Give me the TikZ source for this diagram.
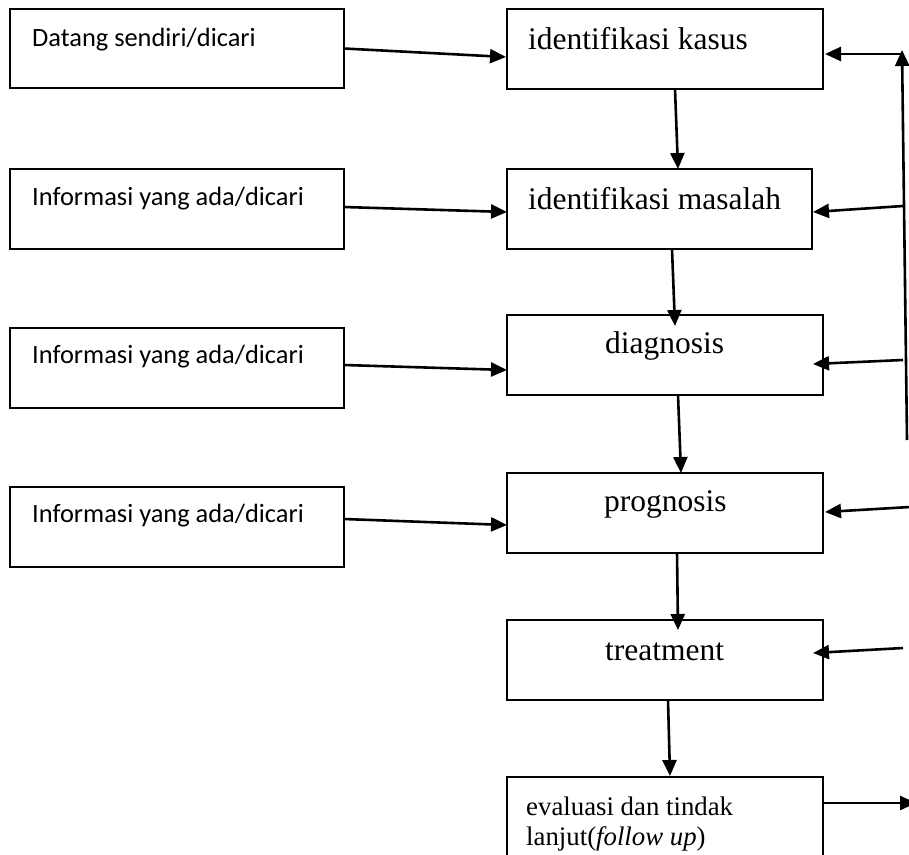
\documentclass[tikz,border=0pt]{standalone}
\usepackage{fontspec}
\setmainfont{Liberation Serif}
\newfontfamily\carl{Carlito}
\usetikzlibrary{arrows.meta,calc}
\tikzset{
  box/.style={draw=black,line width=1.8pt,inner sep=0pt,outer sep=0pt,minimum height=80pt},
  lbox/.style={box,minimum width=334pt},
  rbox/.style={box,minimum width=316pt},
  ltext/.style={anchor=base west,inner sep=0pt,font=\carl\fontsize{26.4pt}{30pt}\selectfont},
  rtext/.style={anchor=base west,inner sep=0pt,font=\fontsize{31.5pt}{36pt}\selectfont},
  arr/.style={line width=2.6pt,-{Triangle[length=16pt,width=14pt]}},
}
\begin{document}
\begin{tikzpicture}[x=1pt,y=-1pt]
\useasboundingbox (0,0) rectangle (909,854);
\clip (0,0) rectangle (909,854);
% left boxes
\node[lbox,minimum height=79pt] (L1) at (177,48.5) {};
\node[lbox] (L2) at (177,209) {};
\node[lbox] (L3) at (177,368) {};
\node[lbox] (L4) at (177,527) {};
\node[ltext] (t1) at (32,46) {Datang sendiri/dicari};
\node[ltext] (t2) at (32,205) {Informasi yang ada/dicari};
\node[ltext] (t3) at (32,363) {Informasi yang ada/dicari};
\node[ltext] (t4) at (32,522) {Informasi yang ada/dicari};
% right boxes
\node[rbox] (K1) at (665,49) {};
\node[box,minimum width=305pt] (K2) at (659.5,209) {};
\node[rbox] (K3) at (665,355) {};
\node[rbox] (K4) at (665,513) {};
\node[rbox] (K5) at (665,660) {};
\node[rbox,minimum height=90pt] (K6) at (665,822) {};
\node[rtext] (s1) at (528,49) {identifikasi kasus};
\node[rtext] (s2) at (528,209) {identifikasi masalah};
\node[rtext] (s3) at (605,353) {diagnosis};
\node[rtext] (s4) at (604,511) {prognosis};
\node[rtext] (s5) at (605,660) {treatment};
\node[anchor=base west,inner sep=0pt,font=\fontsize{26.8pt}{30pt}\selectfont] (s6a) at (526,815) {evaluasi dan tindak};
\node[anchor=base west,inner sep=0pt,font=\fontsize{26.8pt}{30pt}\selectfont] (s6b) at (526,845) {lanjut(\textit{follow up})};
% left to right arrows
\draw[arr] (L1.east) -- ($(K1.west)+(-1,8)$);
\draw[arr] ($(L2.east)+(0,-2)$) -- ($(K2.west)+(0,3)$);
\draw[arr] ($(L3.east)+(0,-3)$) -- ($(K3.west)+(0,15)$);
\draw[arr] ($(L4.east)+(0,-8)$) -- ($(K4.west)+(0,12)$);
% vertical chain
\draw[arr] ($(K1.south)+(10,0)$) -- ($(K2.north)+(18.5,0)$);
\draw[arr] ($(K2.south)+(12.5,0)$) -- ($(K3.north)+(10,11)$);
\draw[arr] ($(K3.south)+(13,0)$) -- ($(K4.north)+(16,0)$);
\draw[arr] ($(K4.south)+(12,0)$) -- ($(K5.north)+(13,10)$);
\draw[arr] ($(K5.south)+(3,0)$) -- ($(K6.north)+(5,-1)$);
% feedback line on the right
\coordinate (Rtop) at (902,50);
\coordinate (Rbot) at (907,440);
\coordinate (Rh) at (902,54);
\coordinate (r2) at (903,206);
\coordinate (r3) at (903,360);
\coordinate (r4) at (910,507);
\coordinate (r5) at (903,648);
\coordinate (e6) at (916,803);
\draw[arr] (Rbot) -- (Rtop);
\draw[arr] (Rh) -- ($(K1.east)+(2,5)$);
\draw[arr] (r2) -- ($(K2.east)+(1,3)$);
\draw[arr] (r3) -- ($(K3.east)+(-10,9)$);
\draw[arr] (r4) -- ($(K4.east)+(2,-1)$);
\draw[arr] (r5) -- ($(K5.east)+(-10,-7)$);
\draw[arr] ($(K6.east)+(0,-19)$) -- (e6);
\end{tikzpicture}
\end{document}
